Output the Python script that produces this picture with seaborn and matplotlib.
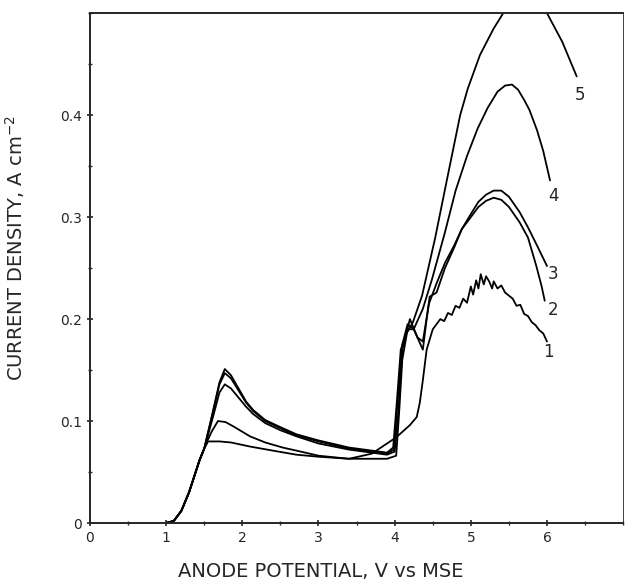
import numpy as np
import pandas as pd
import matplotlib
matplotlib.use("Agg")
import matplotlib.pyplot as plt
from matplotlib.ticker import MultipleLocator
import seaborn as sns

# shared foot of the wave (all five scans coincide here)
RISE_X = [1.0, 1.1, 1.2, 1.3, 1.44, 1.5]
RISE_Y = [0.0, 0.002, 0.012, 0.03, 0.062, 0.073]

C1_X = [1.55, 1.7, 1.85, 2.1, 2.4, 2.71, 3.0, 3.4, 3.7, 4.02, 4.2, 4.29, 4.33, 4.37, 4.42, 4.5, 4.6,
        4.65, 4.7, 4.75, 4.8, 4.85, 4.9, 4.95, 5.0, 5.03, 5.07, 5.1, 5.13, 5.17, 5.2, 5.24,
        5.28, 5.3, 5.35, 5.4, 5.45, 5.5, 5.55, 5.6, 5.65, 5.7, 5.75, 5.8, 5.85, 5.9, 5.95, 6.0]
C1_Y = [0.08, 0.08, 0.079, 0.075, 0.071, 0.067, 0.065, 0.063, 0.068, 0.084, 0.096, 0.104, 0.118, 0.14, 0.17, 0.19, 0.2,
        0.198, 0.206, 0.204, 0.213, 0.211, 0.22, 0.216, 0.232, 0.224, 0.238, 0.23, 0.244, 0.234, 0.242, 0.237,
        0.23, 0.237, 0.23, 0.233, 0.226, 0.223, 0.22, 0.213, 0.214, 0.205, 0.203, 0.197, 0.194, 0.189, 0.186, 0.178]

C2_X = [1.55, 1.6, 1.68, 1.78, 1.9, 2.1, 2.3, 2.53, 2.71, 3.0, 3.4, 3.9, 4.02, 4.06, 4.1, 4.17, 4.25,
        4.37, 4.42, 4.46, 4.55, 4.66, 4.78, 4.88, 5.0, 5.1, 5.2, 5.3, 5.4, 5.5, 5.64, 5.75, 5.86, 5.93, 5.97]
C2_Y = [0.082, 0.09, 0.1, 0.099, 0.094, 0.085, 0.079, 0.074, 0.071, 0.066, 0.063, 0.063, 0.066, 0.11, 0.16, 0.19, 0.19,
        0.17, 0.2, 0.222, 0.226, 0.25, 0.27, 0.288, 0.3, 0.31, 0.316, 0.319, 0.317, 0.31, 0.295, 0.28, 0.252, 0.232, 0.218]

C3_X = [1.6, 1.7, 1.77, 1.85, 1.95, 2.05, 2.14, 2.3, 2.5, 2.71, 3.0, 3.4, 3.9, 4.0, 4.05, 4.1, 4.2,
        4.3, 4.37, 4.45, 4.55, 4.66, 4.78, 4.88, 5.0, 5.1, 5.2, 5.3, 5.4, 5.5, 5.64, 5.75, 5.87, 6.0]
C3_Y = [0.1, 0.128, 0.136, 0.132, 0.123, 0.114, 0.107, 0.098, 0.091, 0.085, 0.078, 0.072, 0.067, 0.07, 0.11, 0.17, 0.2,
        0.182, 0.178, 0.215, 0.235, 0.255, 0.272, 0.288, 0.303, 0.315, 0.322, 0.326, 0.326, 0.32, 0.305, 0.29, 0.272, 0.252]

C4_X = [1.6, 1.7, 1.77, 1.85, 1.95, 2.05, 2.14, 2.3, 2.5, 2.71, 3.0, 3.4, 3.9, 3.99, 4.04, 4.1, 4.17,
        4.25, 4.37, 4.49, 4.66, 4.8, 4.95, 5.09, 5.22, 5.35, 5.45, 5.54, 5.62, 5.7, 5.77, 5.87, 5.95, 6.04]
C4_Y = [0.104, 0.136, 0.147, 0.142, 0.13, 0.118, 0.11, 0.1, 0.093, 0.086, 0.08, 0.073, 0.068, 0.072, 0.12, 0.175, 0.195,
        0.19, 0.21, 0.239, 0.285, 0.326, 0.36, 0.387, 0.407, 0.423, 0.429, 0.43, 0.425, 0.415, 0.405, 0.385, 0.365, 0.336]

C5_X = [1.6, 1.7, 1.77, 1.85, 1.95, 2.05, 2.14, 2.3, 2.5, 2.71, 3.0, 3.4, 3.9, 3.98, 4.03, 4.08, 4.15,
        4.24, 4.36, 4.53, 4.69, 4.86, 4.96, 5.12, 5.3, 5.45, 5.6, 5.72, 5.85, 6.0, 6.2, 6.39]
C5_Y = [0.105, 0.138, 0.151, 0.145, 0.132, 0.119, 0.111, 0.101, 0.094, 0.087, 0.081, 0.074, 0.069, 0.074, 0.12, 0.17, 0.185,
        0.197, 0.223, 0.279, 0.338, 0.4, 0.426, 0.459, 0.485, 0.503, 0.515, 0.52, 0.515, 0.5, 0.472, 0.438]

CURVES = {"1": (C1_X, C1_Y), "2": (C2_X, C2_Y), "3": (C3_X, C3_Y), "4": (C4_X, C4_Y), "5": (C5_X, C5_Y)}
LABEL_POS = {"1": (6.02, 0.168), "2": (6.08, 0.209), "3": (6.08, 0.244), "4": (6.09, 0.321), "5": (6.43, 0.42)}

rows = []
for name, (xs, ys) in CURVES.items():
    for i, (x, y) in enumerate(zip(RISE_X + xs, RISE_Y + ys)):
        rows.append({"curve": name, "order": i, "E": x, "j": y})
df = pd.DataFrame(rows)

sns.set_style("ticks")
plt.rcParams["font.family"] = ["DejaVu Sans"]

fig = plt.figure(figsize=(6.28, 5.86), dpi=100)
ax = fig.add_axes([0.1433, 0.1075, 0.849, 0.870])
sns.lineplot(data=df, x="E", y="j", hue="curve", units="curve", estimator=None, sort=False,
             palette=["black"] * 5, linewidth=1.3, legend=False, ax=ax)

for name, (lx, ly) in LABEL_POS.items():
    ax.text(lx, ly, name, fontsize=12, ha="center", va="center")

ax.set_xlim(0, 7)
ax.set_ylim(0, 0.5)
ax.set_xticks([0, 1, 2, 3, 4, 5, 6])
ax.xaxis.set_minor_locator(MultipleLocator(0.5))
ax.set_yticks([0, 0.1, 0.2, 0.3, 0.4])
ax.set_yticklabels(["0", "0.1", "0.2", "0.3", "0.4"])
ax.yaxis.set_minor_locator(MultipleLocator(0.05))
ax.tick_params(axis="both", which="major", labelsize=10, length=5, width=1.2, direction="inout")
ax.tick_params(axis="both", which="minor", length=3, width=1.0, direction="inout")
for sp in ax.spines.values():
    sp.set_visible(True)
    sp.set_linewidth(1.4)
ax.spines["right"].set_linewidth(0.6)

ax.set_xlabel("ANODE POTENTIAL, V vs MSE", fontsize=14)
ax.set_ylabel("CURRENT DENSITY, A cm$^{-2}$", fontsize=14)
ax.xaxis.set_label_coords(0.432, -0.076)
ax.yaxis.set_label_coords(-0.118, 0.54)

fig.savefig("out.png", dpi=100)
